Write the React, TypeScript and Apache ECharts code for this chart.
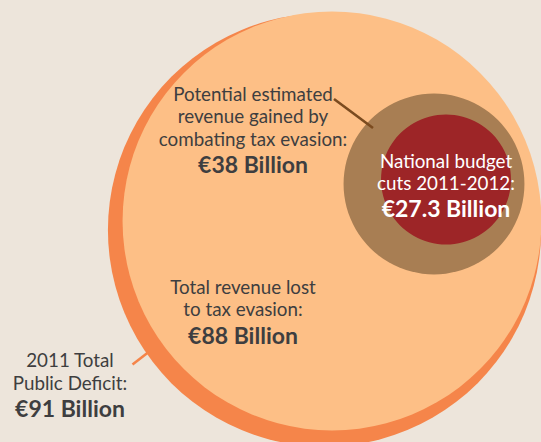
import React, { useEffect, useRef } from "react";
import * as echarts from "echarts";

// ---- data ----
const categories = [
  "2011 Total Public Deficit",
  "Total revenue lost to tax evasion",
  "Potential estimated revenue gained by combating tax evasion",
  "National budget cuts 2011-2012",
];
const valuesBillion = [91, 88, 38, 27.3];
const labelLines = [
  ["2011 Total", "Public Deficit:"],
  ["Total revenue lost", "to tax evasion:"],
  ["Potential estimated", "revenue gained by", "combating tax evasion:"],
  ["National budget", "cuts 2011-2012:"],
];
const valueLabels = ["€91 Billion", "€88 Billion", "€38 Billion", "€27.3 Billion"];

// ---- layout (pixels) ----
const W = 541;
const H = 442;
const centers = [
  [324.5, 230],
  [332, 221],
  [434, 184],
  [446, 179.5],
];
const PX_PER_BILLION = 2.38; // radius
const fills = ["#F5854A", "#FDBF86", "#A87E53", "#9D2527"];
// text block: center x, first baseline, line gap, bold baseline, color
const textBlocks = [
  { x: 70, base: 366.5, gap: 22.7, bold: 416, color: "#3E3E40" },
  { x: 243, base: 293.3, gap: 22, bold: 343.3, color: "#3E3E40" },
  { x: 253, base: 100, gap: 22.6, bold: 172, color: "#3E3E40" },
  { x: 446, base: 167, gap: 22, bold: 216.7, color: "#FFFFFF" },
];

const FONT = "Lato, 'Open Sans', sans-serif";
const NSIZE = 18.8;
const BSIZE = 23;

export default function App() {
  const ref = useRef<HTMLDivElement>(null);
  useEffect(() => {
    if (!ref.current) return;
    const chart = echarts.init(ref.current, null, { renderer: "svg" });
    const graphics: any[] = [];
    textBlocks.forEach((b, i) => {
      labelLines[i].forEach((t, j) => {
        graphics.push({
          type: "text",
          x: b.x,
          y: b.base + j * b.gap - NSIZE * 0.36,
          z: 10,
          style: {
            text: t,
            fill: b.color,
            font: `${NSIZE}px ${FONT}`,
            textAlign: "center",
            textVerticalAlign: "middle",
          },
        });
      });
      graphics.push({
        type: "text",
        x: b.x,
        y: b.bold - BSIZE * 0.36,
        z: 10,
        style: {
          text: valueLabels[i],
          fill: b.color,
          font: `bold ${BSIZE}px ${FONT}`,
          textAlign: "center",
          textVerticalAlign: "middle",
        },
      });
    });
    graphics.push({
      type: "line",
      z: 10,
      shape: { x1: 334, y1: 99, x2: 373, y2: 128 },
      style: { stroke: "#7B4B1F", lineWidth: 2.6 },
    });
    graphics.push({
      type: "line",
      z: 10,
      shape: { x1: 132.5, y1: 364.5, x2: 148, y2: 352.5 },
      style: { stroke: "#F5854A", lineWidth: 2.6 },
    });

    chart.setOption({
      animation: false,
      backgroundColor: "#EDE5DB",
      grid: { left: 0, right: 0, top: 0, bottom: 0 },
      xAxis: { type: "value", min: 0, max: W, show: false },
      yAxis: { type: "value", min: 0, max: H, inverse: true, show: false },
      series: [
        {
          type: "scatter",
          name: "circles",
          symbol: "circle",
          silent: true,
          data: valuesBillion.map((v, i) => ({
            name: categories[i],
            value: [centers[i][0], centers[i][1], v],
            symbolSize: 2 * v * PX_PER_BILLION,
            itemStyle: { color: fills[i], opacity: 1 },
          })),
        },
      ],
      graphic: graphics,
    });
    return () => chart.dispose();
  }, []);
  return (
    <div
      ref={ref}
      style={{ position: "absolute", left: 0, top: 0, width: W, height: H }}
    />
  );
}
